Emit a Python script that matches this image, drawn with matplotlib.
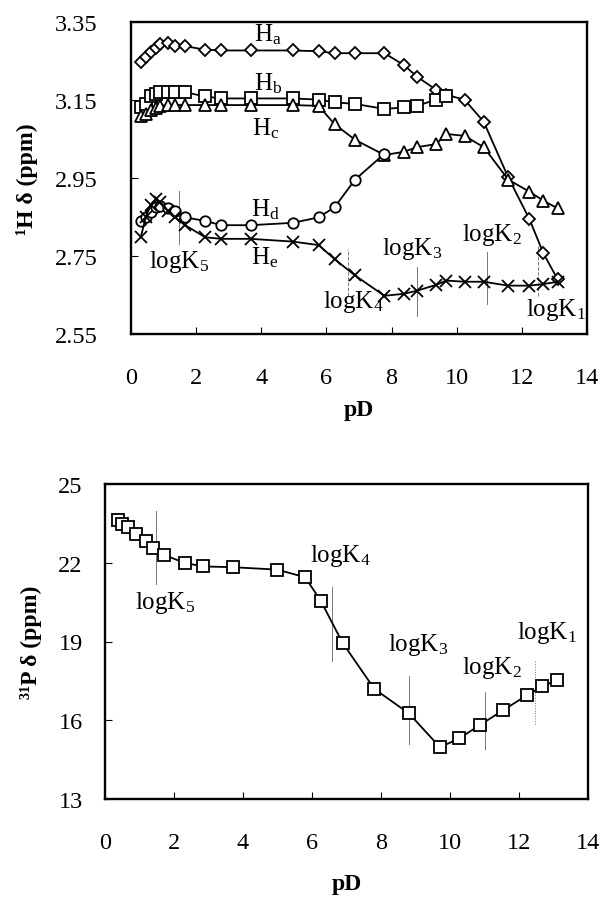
import matplotlib
matplotlib.use("Agg")
import matplotlib.pyplot as plt

plt.rcParams['font.family'] = ['Liberation Serif', 'DejaVu Serif']
plt.rcParams['mathtext.fontset'] = 'custom'
plt.rcParams['mathtext.rm'] = 'Liberation Serif'
plt.rcParams['mathtext.it'] = 'Liberation Serif:italic'
plt.rcParams['mathtext.bf'] = 'Liberation Serif:bold'

# ---------------- data: top panel (1H) ----------------
pD_H = [0.30, 0.45, 0.60, 0.76, 0.88, 1.14, 1.35, 1.66, 2.28, 2.77, 3.67, 4.96, 5.76,
        6.25, 6.88, 7.78, 8.37, 8.78, 9.37, 9.68, 10.24, 10.83, 11.58, 12.23, 12.66, 13.10]
Ha = [3.248, 3.259, 3.272, 3.283, 3.294, 3.296, 3.288, 3.288, 3.279, 3.277, 3.277, 3.277, 3.275,
      3.270, 3.270, 3.270, 3.240, 3.210, 3.176, 3.163, 3.151, 3.094, 2.952, 2.845, 2.757, 2.690]
Hb = [3.131, 3.140, 3.159, 3.165, 3.170, 3.170, 3.170, 3.170, 3.159, 3.154, 3.154, 3.154, 3.151,
      3.144, 3.140, 3.127, 3.131, 3.135, 3.151, 3.159]
Hc = [3.108, 3.114, 3.125, 3.129, 3.135, 3.137, 3.137, 3.137, 3.137, 3.137, 3.137, 3.137, 3.135,
      3.088, 3.048, 3.009, 3.017, 3.029, 3.037, 3.063, 3.058, 3.029, 2.946, 2.915, 2.892, 2.872]
Hd = [2.840, 2.849, 2.862, 2.875, 2.879, 2.872, 2.866, 2.849, 2.840, 2.829, 2.829, 2.835, 2.849,
      2.875, 2.946, 3.012]
He = [2.798, 2.849, 2.880, 2.896, 2.888, 2.866, 2.849, 2.829, 2.798, 2.794, 2.794, 2.787, 2.778,
      2.742, 2.700, 2.648, 2.653, 2.661, 2.676, 2.687, 2.684, 2.684, 2.674, 2.674, 2.678, 2.684]

H_labels = ["H$_\\mathrm{a}$", "H$_\\mathrm{b}$", "H$_\\mathrm{c}$", "H$_\\mathrm{d}$", "H$_\\mathrm{e}$"]
H_label_x = [3.78, 3.78, 3.72, 3.68, 3.68]
H_label_y = [3.319, 3.195, 3.080, 2.870, 2.747]

logK_names = ["logK$_1$", "logK$_2$", "logK$_3$", "logK$_4$", "logK$_5$"]
# top panel logK markers
topK_x = [12.50, 10.93, 8.79, 6.66, 1.46]
topK_y0 = [2.648, 2.627, 2.597, 2.648, 2.781]
topK_y1 = [2.776, 2.759, 2.721, 2.768, 2.917]
topK_tx = [12.12, 10.17, 7.72, 5.88, 0.55]
topK_ty = [2.614, 2.806, 2.770, 2.635, 2.738]

# ---------------- data: bottom panel (31P) ----------------
pD_P = [0.39, 0.48, 0.68, 0.90, 1.19, 1.38, 1.71, 2.32, 2.85, 3.70, 4.98, 5.80, 6.25, 6.89,
        7.81, 8.81, 9.71, 10.27, 10.87, 11.55, 12.24, 12.68, 13.09]
P31 = [23.64, 23.48, 23.35, 23.10, 22.84, 22.55, 22.30, 21.99, 21.86, 21.83, 21.74, 21.45, 20.56,
       18.94, 17.19, 16.26, 14.97, 15.31, 15.82, 16.39, 16.96, 17.29, 17.53]
botK_x = [12.46, 11.01, 8.81, 6.57, 1.48]
botK_y0 = [15.86, 14.90, 15.10, 18.27, 21.19]
botK_y1 = [18.27, 17.06, 17.70, 21.06, 23.98]
botK_tx = [11.93, 10.34, 8.20, 5.94, 0.87]
botK_ty = [19.35, 18.02, 18.90, 22.30, 20.49]

top_yticks = [2.55, 2.75, 2.95, 3.15, 3.35]
bot_yticks = [13, 16, 19, 22, 25]
xticks = [0, 2, 4, 6, 8, 10, 12, 14]

W, H = 602, 903
fig = plt.figure(figsize=(W / 100, H / 100), dpi=100)
ax1 = fig.add_axes([131 / W, 1 - 335 / H, 456 / W, 312 / H])
ax2 = fig.add_axes([105 / W, 1 - 800 / H, 483 / W, 315 / H])

lw = 1.3
mk = dict(color='black', lw=lw, markerfacecolor='white', markeredgecolor='black', markeredgewidth=1.3)
ax1.plot(pD_H, Ha, marker='D', ms=6, **mk)
ax1.plot(pD_H[:len(Hb)], Hb, marker='s', ms=8, **mk)
ax1.plot(pD_H, Hc, marker='^', ms=8, **mk)
ax1.plot(pD_H[:len(Hd)], Hd, marker='o', ms=7.5, **mk)
ax1.plot(pD_H, He, marker='x', ms=8, **mk)

for t, x, y in zip(H_labels, H_label_x, H_label_y):
    ax1.text(x, y, t, fontsize=18, ha='left', va='center')

styles = ['--', '-', '-', '--', '-']
for i in range(5):
    ax1.plot([topK_x[i], topK_x[i]], [topK_y0[i], topK_y1[i]], color='#777777', lw=0.7, ls=styles[i], zorder=0)
    ax1.text(topK_tx[i], topK_ty[i], logK_names[i], fontsize=18, ha='left', va='center')

ax2.plot(pD_P, P31, marker='s', ms=8, **mk)
bstyles = [':', '-', '-', '-', '-']
for i in range(5):
    ax2.plot([botK_x[i], botK_x[i]], [botK_y0[i], botK_y1[i]], color='#777777', lw=0.7, ls=bstyles[i], zorder=0)
    ax2.text(botK_tx[i], botK_ty[i], logK_names[i], fontsize=18, ha='left', va='center')

ax1.set_ylim(2.55, 3.35)
ax1.set_yticks(top_yticks)
ax1.set_yticklabels([f"{v:.2f}" for v in top_yticks])
ax2.set_ylim(13, 25)
ax2.set_yticks(bot_yticks)
ax2.set_yticklabels([str(v) for v in bot_yticks])

for ax, ypad in ((ax1, 24), (ax2, 16)):
    ax.set_xlim(0, 14)
    ax.set_xticks(xticks)
    ax.set_xticklabels([str(v) for v in xticks])
    ax.tick_params(axis='both', direction='in', length=5, width=0.8, labelsize=17.5)
    ax.tick_params(axis='x', pad=24)
    ax.tick_params(axis='y', pad=ypad)
    for s in ax.spines.values():
        s.set_linewidth(1.7)

ax1.set_xlabel("pD", fontsize=17, fontweight='bold', labelpad=8)
ax2.set_xlabel("pD", fontsize=17, fontweight='bold', labelpad=14)
ax1.set_ylabel("¹H δ (ppm)", fontsize=17, fontweight='bold', labelpad=12)
ax2.set_ylabel("³¹P δ (ppm)", fontsize=17, fontweight='bold', labelpad=12)

fig.savefig("out.png", dpi=100)
